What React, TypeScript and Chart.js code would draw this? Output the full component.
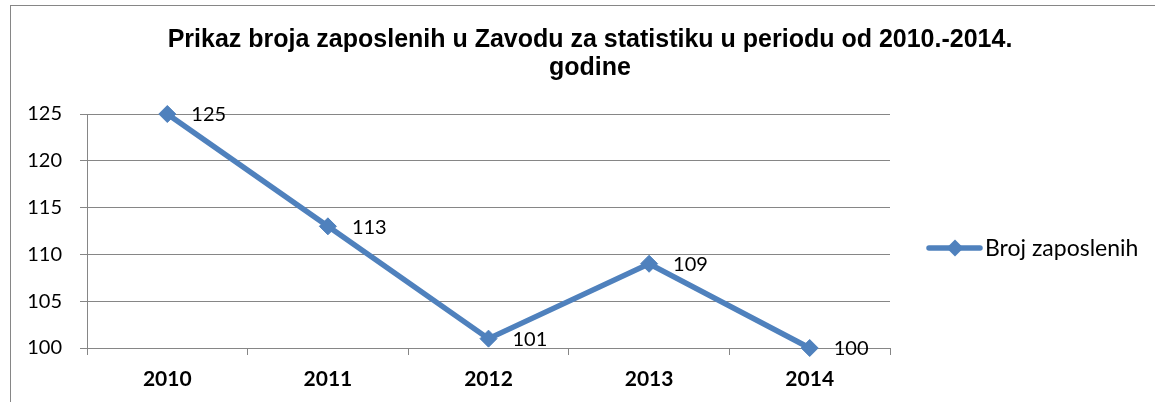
import React, { useEffect, useRef } from "react";
import { Chart, registerables } from "chart.js";

Chart.register(...registerables);

const categories = ["2010", "2011", "2012", "2013", "2014"];
const employees = [125, 113, 101, 109, 100];
const yTicks = [100, 105, 110, 115, 120, 125];
const seriesName = "Broj zaposlenih";
const titleLines = [
  "Prikaz broja zaposlenih u Zavodu za statistiku u periodu od 2010.-2014.",
  "godine",
];

const LINE_COLOR = "#4F81BD";
const GRID_COLOR = "#868686";

const framePlugin = {
  id: "frame",
  beforeDraw(chart: any) {
    const { ctx } = chart;
    ctx.save();
    ctx.fillStyle = "#ffffff";
    ctx.fillRect(0, 0, chart.width, chart.height);
    ctx.strokeStyle = GRID_COLOR;
    ctx.lineWidth = 1;
    ctx.strokeRect(10.5, 5.5, chart.width + 40, chart.height + 40);
    ctx.restore();
  },
};

const titlePlugin = {
  id: "titleText",
  afterDraw(chart: any) {
    const { ctx } = chart;
    ctx.save();
    ctx.fillStyle = "#000000";
    ctx.font = "bold 25px 'Liberation Sans', Arial, sans-serif";
    ctx.textAlign = "center";
    ctx.textBaseline = "alphabetic";
    ctx.fillText(titleLines[0], 590, 47);
    ctx.fillText(titleLines[1], 590, 75);
    ctx.restore();
  },
};

const dataLabelPlugin = {
  id: "dataLabels",
  afterDatasetsDraw(chart: any) {
    const { ctx } = chart;
    const meta = chart.getDatasetMeta(0);
    ctx.save();
    ctx.fillStyle = "#000000";
    ctx.font = "20px Lato, sans-serif";
    ctx.textAlign = "left";
    ctx.textBaseline = "middle";
    meta.data.forEach((pt: any, i: number) => {
      ctx.fillText(String(employees[i]), pt.x + 24, pt.y + 1);
    });
    ctx.restore();
  },
};

const legendPlugin = {
  id: "customLegend",
  afterDraw(chart: any) {
    const { ctx } = chart;
    const y = 248;
    ctx.save();
    ctx.strokeStyle = LINE_COLOR;
    ctx.lineWidth = 5.5;
    ctx.lineCap = "round";
    ctx.beginPath();
    ctx.moveTo(929, y);
    ctx.lineTo(980, y);
    ctx.stroke();
    ctx.fillStyle = LINE_COLOR;
    ctx.beginPath();
    const r = 8.5;
    const cx = 955;
    ctx.moveTo(cx - r, y);
    ctx.lineTo(cx, y - r);
    ctx.lineTo(cx + r, y);
    ctx.lineTo(cx, y + r);
    ctx.closePath();
    ctx.fill();
    ctx.fillStyle = "#000000";
    ctx.font = "23px Lato, sans-serif";
    ctx.textAlign = "left";
    ctx.textBaseline = "middle";
    ctx.fillText(seriesName, 985, y + 1);
    ctx.restore();
  },
};

export default function App() {
  const canvasRef = useRef<HTMLCanvasElement | null>(null);

  useEffect(() => {
    if (!canvasRef.current) return;
    const chart = new Chart(canvasRef.current, {
      type: "line",
      data: {
        labels: categories,
        datasets: [
          {
            label: seriesName,
            data: employees,
            borderColor: LINE_COLOR,
            backgroundColor: LINE_COLOR,
            borderWidth: 5.5,
            pointStyle: "rectRot",
            pointRadius: 8.5,
            pointBorderWidth: 1,
            pointBorderColor: LINE_COLOR,
            pointBackgroundColor: LINE_COLOR,
            tension: 0,
            clip: false as any,
          },
        ],
      },
      options: {
        animation: false,
        responsive: false,
        maintainAspectRatio: false,
        layout: { padding: { left: 0, right: 265, top: 114, bottom: 0 } },
        plugins: {
          legend: { display: false },
          title: { display: false },
          tooltip: { enabled: false },
        },
        scales: {
          x: {
            type: "category",
            offset: true,
            grid: {
              offset: true,
              drawOnChartArea: false,
              drawTicks: true,
              tickLength: 7,
              color: GRID_COLOR,
              lineWidth: 1,
            },
            border: { color: GRID_COLOR, width: 1 },
            ticks: {
              color: "#000000",
              font: { family: "Lato", size: 21, weight: "bold" },
              padding: 12,
              maxRotation: 0,
              autoSkip: false,
            },
            afterFit: (s: any) => {
              s.height = 54;
            },
          },
          y: {
            min: 100,
            max: 125,
            afterBuildTicks: (s: any) => {
              s.ticks = yTicks.map((v) => ({ value: v }));
            },
            grid: {
              color: GRID_COLOR,
              lineWidth: 1,
              drawTicks: true,
              tickLength: 7,
            },
            border: { color: GRID_COLOR, width: 1 },
            ticks: {
              color: "#000000",
              font: { family: "Lato", size: 20 },
              padding: 18,
            },
            afterFit: (s: any) => {
              s.width = 87;
            },
          },
        },
      },
      plugins: [framePlugin, dataLabelPlugin, titlePlugin, legendPlugin],
    });
    return () => chart.destroy();
  }, []);

  return (
    <div style={{ position: "fixed", left: 0, top: 0, width: 1155, height: 402, background: "#fff" }}>
      <canvas ref={canvasRef} width={1155} height={402} style={{ display: "block", width: 1155, height: 402 }} />
    </div>
  );
}
